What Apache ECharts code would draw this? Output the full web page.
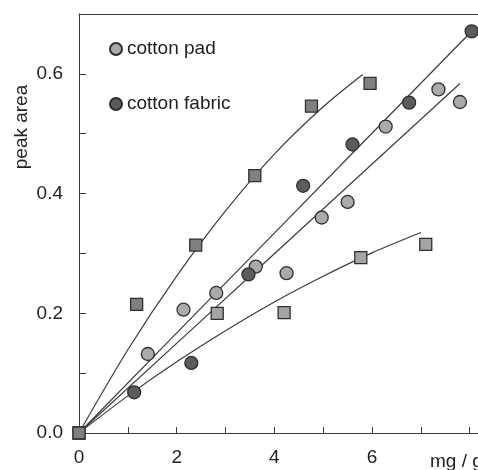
<!DOCTYPE html>
<html>
<head>
<meta charset="utf-8">
<script src="https://cdn.jsdelivr.net/npm/echarts@6/dist/echarts.min.js"></script>
<style>
html,body{margin:0;padding:0;background:#fff;}
#chart{width:478px;height:470px;}
</style>
</head>
<body>
<div id="chart"></div>
<script>
// ---- data ----
const xTickLabels = ['0', '2', '4', '6'];
const yTickLabels = ['0.0', '0.2', '0.4', '0.6'];
const cottonPad = [[1.41,0.132],[2.14,0.206],[2.81,0.234],[3.62,0.278],[4.25,0.267],[4.97,0.360],[5.50,0.386],[6.28,0.512],[7.36,0.574],[7.80,0.553]];
const cottonFabric = [[1.13,0.068],[2.30,0.117],[3.47,0.265],[4.59,0.413],[5.60,0.482],[6.76,0.552],[8.04,0.671]];
const squaresUpper = [[0,0],[1.18,0.215],[2.39,0.314],[3.60,0.430],[4.76,0.546],[5.96,0.584]];
const squaresLower = [[0,0],[2.83,0.200],[4.20,0.201],[5.77,0.293],[7.10,0.315]];
// fitted curves, points
const fitUpper = [[0,0],[1,0.139],[2,0.262],[3,0.371],[4,0.466],[5,0.545],[5.81,0.599]];
const fitFabric = [[0,0],[4,0.334],[8.05,0.672]];
const fitPad = [[0,0],[3.9,0.292],[7.80,0.584]];
const fitLower = [[0,0],[1,0.062],[2,0.119],[3,0.171],[4,0.219],[5,0.262],[6,0.301],[7,0.335]];

const FONT = 'Liberation Sans, Arial, sans-serif';
const AX = '#3a3a3a';
const chart = echarts.init(document.getElementById('chart'), null, {renderer:'canvas'});

function fitSeries(name, data){
  return {name:name, type:'line', data:data, smooth:0.3, symbol:'none', silent:true,
    lineStyle:{color:'#3c3c3c', width:1.2}, z:1};
}
function markSeries(name, data, symbol, size, color){
  return {name:name, type:'scatter', data:data, symbol:symbol, symbolSize:size,
    itemStyle:{color:color, borderColor:'#2e2e2e', borderWidth:1.3, opacity:1}, z:3};
}

chart.setOption({
  animation:false,
  backgroundColor:'#fff',
  grid:{left:79, top:14, right:0, bottom:37},
  legend:{
    data:['cotton pad','cotton fabric'],
    orient:'vertical', left:104, top:33,
    icon:'circle', itemWidth:12, itemHeight:12, itemGap:33,
    textStyle:{fontFamily:FONT, fontSize:19, color:'#222', lineHeight:22}
  },
  xAxis:[{
    type:'value', min:0, max:8.17, interval:1,
    axisLine:{show:true, onZero:false, lineStyle:{color:AX, width:1}},
    axisTick:{show:true, inside:true, length:6, lineStyle:{color:AX}},
    splitLine:{show:false},
    axisLabel:{fontFamily:FONT, fontSize:19, color:'#222', margin:15, showMaxLabel:false,
      formatter:function(v){ const s = String(Math.round(v)); return (Math.abs(v-Math.round(v))<1e-6 && xTickLabels.indexOf(s)>=0) ? s : ''; }}
  },{
    type:'value', position:'top', min:0, max:8.17,
    axisLine:{show:true, onZero:false, lineStyle:{color:AX, width:1}},
    axisTick:{show:false}, axisLabel:{show:false}, splitLine:{show:false}
  }],
  yAxis:{
    type:'value', min:0, max:0.7, interval:0.1,
    axisLine:{show:true, onZero:false, lineStyle:{color:AX, width:1}},
    axisTick:{show:true, inside:true, length:7, lineStyle:{color:AX}},
    splitLine:{show:false},
    axisLabel:{fontFamily:FONT, fontSize:19, color:'#222', margin:16, showMaxLabel:false,
      formatter:function(v){ const s = v.toFixed(1); return yTickLabels.indexOf(s)>=0 ? s : ''; }}
  },
  graphic:[
    {type:'text', x:22, y:127, rotation:Math.PI/2,
      style:{text:'peak area', font:'19px '+FONT, fill:'#222', textAlign:'center', textVerticalAlign:'middle'}},
    {type:'text', x:430, y:462,
      style:{text:'mg / g', font:'19px '+FONT, fill:'#222', textAlign:'left', textVerticalAlign:'middle'}}
  ],
  series:[
    fitSeries('fit upper', fitUpper),
    fitSeries('fit fabric', fitFabric),
    fitSeries('fit pad', fitPad),
    fitSeries('fit lower', fitLower),
    markSeries('squares lower', squaresLower, 'rect', 12, '#a4a4a4'),
    markSeries('squares upper', squaresUpper, 'rect', 12, '#808080'),
    markSeries('cotton pad', cottonPad, 'circle', 13, '#aaaaaa'),
    markSeries('cotton fabric', cottonFabric, 'circle', 13, '#5c5c5c')
  ]
});
</script>
</body>
</html>
